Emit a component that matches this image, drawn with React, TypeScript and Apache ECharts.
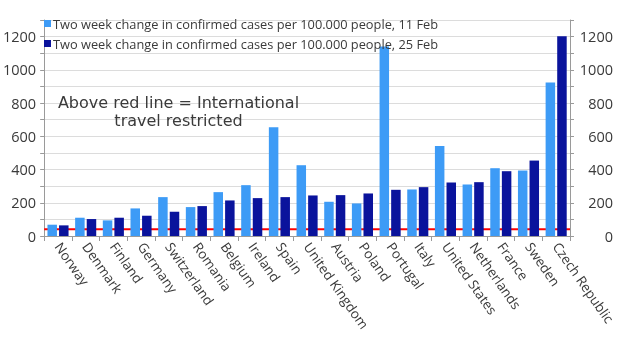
import React, { useEffect, useRef } from "react";
import * as echarts from "echarts";

const countries = ["Norway","Denmark","Finland","Germany","Switzerland","Romania","Belgium","Ireland","Spain","United Kingdom","Austria","Poland","Portugal","Italy","United States","Netherlands","France","Sweden","Czech Republic"];
const feb11 = [68,110,94,166,234,174,264,306,654,426,206,196,1140,280,542,310,408,394,924];
const feb25 = [64,102,110,122,146,180,214,228,234,244,246,256,278,294,322,324,390,454,1202];
const seriesNames = ["Two week change in confirmed cases per 100.000 people, 11 Feb","Two week change in confirmed cases per 100.000 people, 25 Feb"];
const redLineValue = 40;
const annotation = "Above red line = International\ntravel restricted";

const FONT = "'Open Sans', 'Noto Sans', sans-serif";
const TXT = "#3a3a3a";

export default function App() {
  const ref = useRef<HTMLDivElement>(null);
  useEffect(() => {
    const chart = echarts.init(ref.current!, null, { renderer: "svg" });
    const yAxisBase = (pos: "left" | "right") => ({
      type: "value",
      position: pos,
      min: 0,
      max: 1300,
      interval: 100,
      axisLine: { show: true, lineStyle: { color: "#9a9a9a", width: 1 } },
      axisTick: { show: true, inside: false, length: 4, lineStyle: { color: "#9a9a9a" } },
      splitLine: { show: pos === "left", lineStyle: { color: "#dcdcdc", width: 1 } },
      axisLabel: {
        color: TXT,
        fontFamily: FONT,
        fontSize: 14.5,
        align: "right",
        margin: pos === "left" ? 8 : 43,
        formatter: (v: number) => (v % 200 === 0 && v <= 1200 ? String(v) : ""),
      },
    });
    chart.setOption({
      animation: false,
      grid: { left: 43, right: 50, top: 20, bottom: 115 },
      legend: {
        orient: "vertical",
        left: 44,
        top: 17,
        padding: 0,
        itemWidth: 7,
        itemHeight: 7,
        itemGap: 7,
        icon: "rect",
        textStyle: { color: TXT, fontFamily: FONT, fontSize: 12.8, padding: [0, 0, 0, -3] },
        data: seriesNames,
      },
      xAxis: [
        {
          type: "category",
          data: countries,
          axisLine: { lineStyle: { color: "#9a9a9a" } },
          axisTick: { show: true, length: 5, alignWithLabel: false, lineStyle: { color: "#9a9a9a" } },
          axisLabel: { rotate: -55, color: TXT, fontFamily: FONT, fontSize: 13.5, margin: 8, interval: 0 },
        },
        { type: "value", min: 0, max: 1, show: false },
      ],
      yAxis: [yAxisBase("left"), yAxisBase("right")],
      graphic: [
        {
          type: "text",
          x: 178.5,
          y: 93,
          z: 100,
          style: {
            text: annotation,
            fill: TXT,
            font: `16px 'DejaVu Sans', sans-serif`,
            align: "center",
            verticalAlign: "top",
            lineHeight: 18.5,
          },
        },
      ],
      series: [
        {
          name: "redline",
          type: "line",
          xAxisIndex: 1,
          data: [[0, redLineValue], [1, redLineValue]],
          showSymbol: false,
          silent: true,
          z: 2,
          lineStyle: { color: "#ff0000", type: "solid", width: 2 },
        },
        {
          name: seriesNames[0],
          type: "bar",
          data: feb11,
          barWidth: 9.5,
          barGap: "22%",
          itemStyle: { color: "#3d9bf6" },
          z: 3,
        },
        {
          name: seriesNames[1],
          type: "bar",
          data: feb25,
          barWidth: 9.5,
          itemStyle: { color: "#0a139c" },
          z: 3,
        },
      ],
    });
    return () => chart.dispose();
  }, []);
  return <div ref={ref} style={{ position: "fixed", left: 0, top: 0, width: 620, height: 351 }} />;
}
